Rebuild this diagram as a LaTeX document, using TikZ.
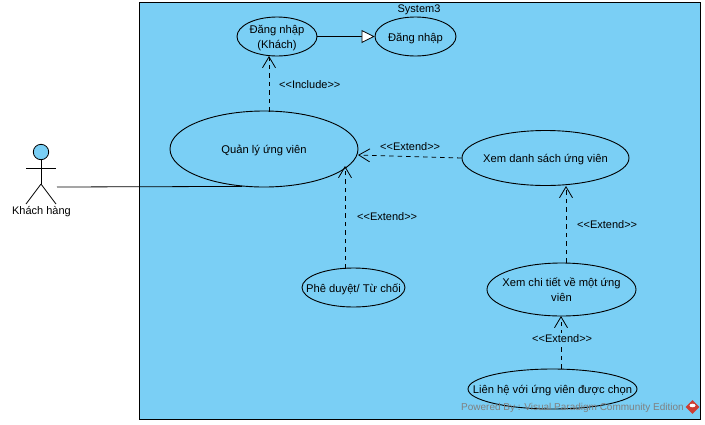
\documentclass[tikz,border=0pt]{standalone}
\usepackage{fontspec}
\setmainfont{Liberation Sans}
\usetikzlibrary{shapes.geometric,arrows.meta}
\definecolor{sysblue}{RGB}{122,207,245}
\definecolor{vpred}{RGB}{205,60,50}
\newcommand\uctext[1]{\makebox[0pt]{\raisebox{-.5\height}[0pt][0pt]{\raisebox{1pt}{\begin{tabular}[b]{@{}c@{}}#1\end{tabular}}}}}
\newcommand\ext[1]{{<}{<}#1{>}{>}}
\tikzset{
  uc/.style={draw=black,ellipse,fill=sysblue,line width=0.9pt,minimum width=#1,inner sep=0pt,font=\fontsize{11.2}{15}\selectfont},
  lbl/.style={font=\fontsize{11}{13}\selectfont,inner sep=0pt,text=black},
  dep/.style={draw=black,dash pattern=on 4.5pt off 4pt,line width=0.8pt,-{Straight Barb[length=11pt,width=13pt,line width=0.8pt]}},
  gen/.style={draw=black,line width=0.8pt,-{Triangle[open,fill=white,length=13pt,width=13pt,line width=0.8pt]}},
  assoc/.style={draw=black,line width=0.8pt},
  limb/.style={draw=black,line width=0.8pt}
}
\begin{document}
\begin{tikzpicture}[x=1pt,y=-1pt]
\useasboundingbox (0,0) rectangle (705,424);
\fill[white] (0,0) rectangle (705,424);
\node[draw=black,fill=sysblue,line width=0.9pt,minimum width=561pt,minimum height=417pt,inner sep=0pt,anchor=north west] (sys) at (139,2) {};
\node[lbl] (systitle) at (419,10) {System3};

\node[uc=80pt,minimum height=39pt] (login1) at (277,36.5) {\uctext{Đăng nhập\\(Khách)}};
\node[uc=81pt,minimum height=39pt] (login2) at (415.5,36.5) {\uctext{Đăng nhập}};
\node[uc=188pt,minimum height=76pt] (manage) at (264,149) {\uctext{Quản lý ứng viên}};
\node[uc=167pt,minimum height=55pt] (list) at (545.5,158) {\uctext{Xem danh sách ứng viên}};
\node[uc=103pt,minimum height=39pt] (approve) at (353.5,287.5) {\uctext{Phê duyệt/ Từ chối}};
\node[uc=149pt,minimum height=53pt] (detail) at (561.5,289.5) {\uctext{Xem chi tiết về một ứng\\viên}};
\node[uc=169pt,minimum height=40pt] (contact) at (552.5,389) {\uctext{Liên hệ với ứng viên được chọn}};

% actor
\draw[limb,fill=sysblue] (41,152) circle (7.7pt);
\coordinate (neck) at (41,160);
\coordinate (hip) at (41,184);
\draw[limb] (neck) -- (hip);
\draw[limb] (26,168) -- (56,168);
\draw[limb] (hip) -- (26,204);
\draw[limb] (hip) -- (56,204);
\node[lbl] (actor) at (41.5,212) {Khách hàng};
\coordinate (actorend) at (57,187);

\draw[assoc] (actorend) -- (manage.240);
\draw[gen] (login1.east) -- (login2.west);
\draw[dep] (manage.north -| 269,0) ++(0,1) -- (269,56);
\draw[dep] (list.west) -- (358,155);
\draw[dep] (approve.north -| 345,0) ++(0,1) -- (345,166);
\draw[dep] (detail.north -| 566,0) -- (566,186);
\draw[dep] (contact.north -| 561,0) -- (561,316);

\node[lbl,anchor=west] (l1) at (279,85) {\ext{Include}};
\node[lbl,anchor=west] (l2) at (380,146.5) {\ext{Extend}};
\node[lbl,anchor=west] (l3) at (357,216.5) {\ext{Extend}};
\node[lbl,anchor=west] (l4) at (577,224.5) {\ext{Extend}};
\node[lbl,anchor=west,fill=sysblue,inner sep=1.5pt] (l5) at (530.5,338.5) {\ext{Extend}};

\node[font=\fontsize{10}{12}\selectfont,text=black!50,anchor=west,inner sep=0pt] (wm) at (461,407.5) {Powered By : Visual Paradigm Community Edition};
\node[diamond,fill=vpred,minimum width=14pt,minimum height=14pt,inner sep=0pt] (icon) at (692.5,407) {};
\fill[white] (692.5,405.5) ellipse (3pt and 1.8pt);
\end{tikzpicture}
\end{document}
